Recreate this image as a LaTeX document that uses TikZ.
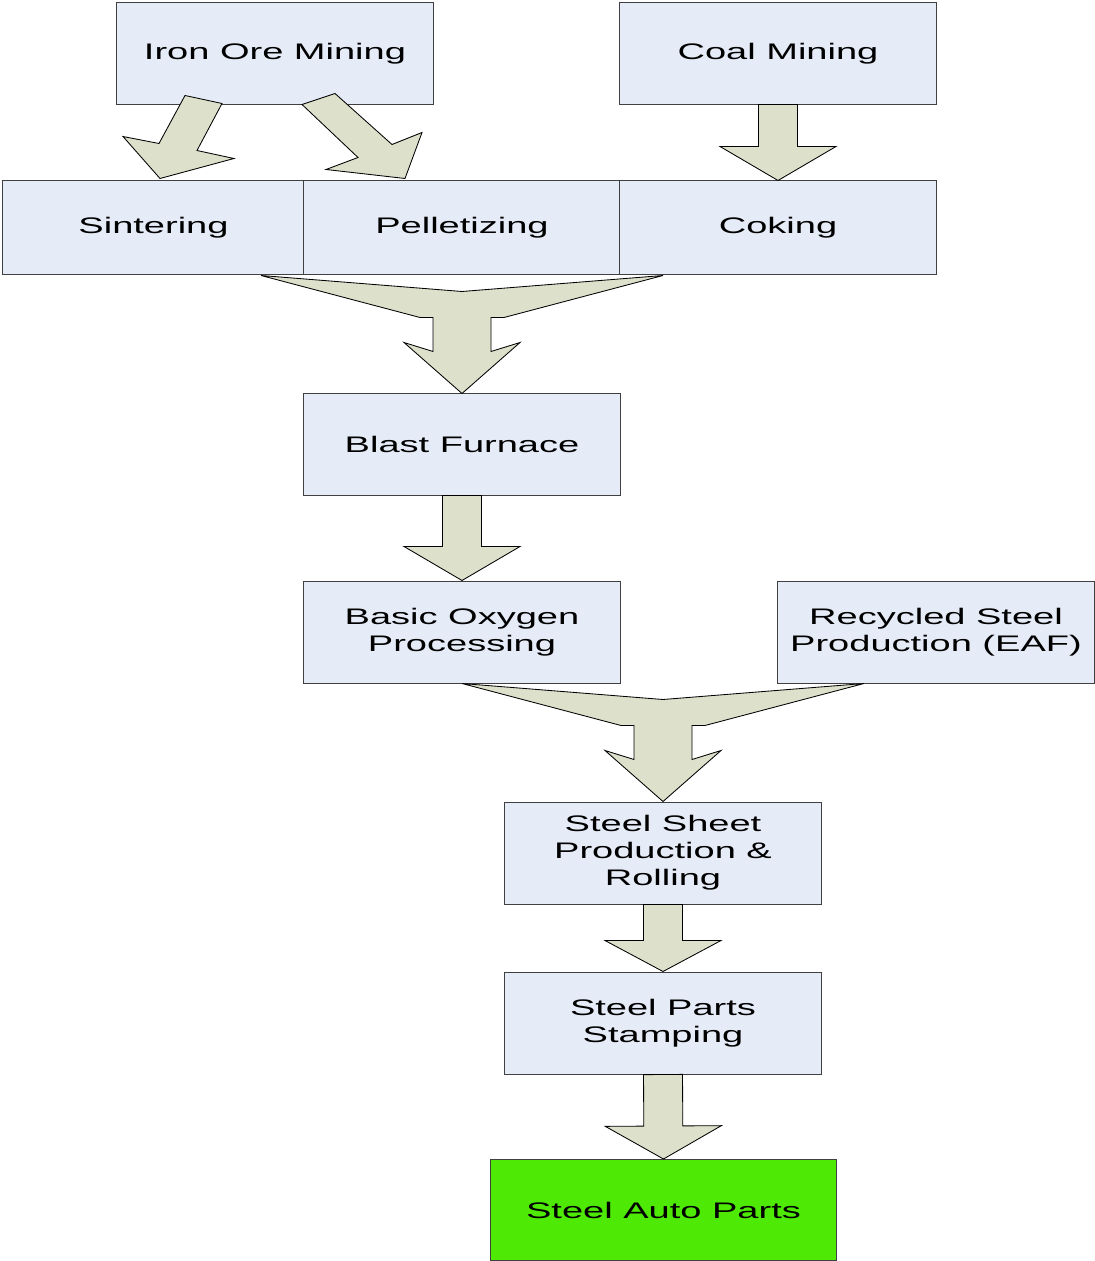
\documentclass[tikz,border=0pt]{standalone}
\usepackage{fontspec}
\setmainfont{Liberation Sans}[FakeStretch=1.69]
\usetikzlibrary{calc}

\definecolor{boxfill}{RGB}{230,236,247}
\definecolor{boxline}{RGB}{64,64,64}
\definecolor{arrowfill}{RGB}{221,224,203}
\definecolor{autogreen}{RGB}{78,234,6}

\def\pxu{0.025cm}
% block arrow: tail, tip, half shaft, half head, head length (px)
\newcommand{\blockarrow}[5]{%
  \path ($(#2)!#5*\pxu!(#1)$) coordinate (hb);
  \draw[arrowbody] ($(#1)!#3*\pxu!90:(#2)$) -- ($(hb)!#3*\pxu!90:(#2)$)
    -- ($(hb)!#4*\pxu!90:(#2)$) -- (#2) -- ($(hb)!#4*\pxu!-90:(#2)$)
    -- ($(hb)!#3*\pxu!-90:(#2)$) -- ($(#1)!#3*\pxu!-90:(#2)$) -- cycle;
}
% two sources joining into one target
\newcommand{\mergearrow}[1]{%
  \draw[arrowbody,shift={(#1.north)}] (-201,-118) -- (-42,-76) -- (-29,-76) -- (-29,-42)
    -- (-58,-51) -- (0,0) -- (58,-51) -- (29,-42) -- (29,-76) -- (42,-76)
    -- (201,-118) -- (0,-102) -- cycle;
}

\begin{document}
\begin{tikzpicture}[x=0.025cm,y=-0.025cm,
stage/.style={draw=boxline,line width=0.7pt,fill=boxfill,align=center,inner sep=0pt,
  minimum width=7.9cm,minimum height=2.525cm,font=\fontsize{16}{19.2}\selectfont},
prep/.style={stage,minimum height=2.325cm},
product/.style={stage,fill=autogreen,minimum width=8.625cm},
arrowbody/.style={draw=black,line width=0.6pt,fill=arrowfill,line join=miter}]
\useasboundingbox (0,0) rectangle (1095,1261);
\node[stage] (iron) at (275,53.5) {Iron Ore Mining};
\node[stage] (coal) at (778,53.5) {Coal Mining};
\node[prep,minimum width=7.525cm] (sinter) at (153.5,227.5) {Sintering};
\node[prep] (pellet) at (462,227.5) {Pelletizing};
\node[prep] (coke) at (778,227.5) {Coking};
\node[stage] (blast) at (462,444.5) {Blast Furnace};
\node[stage,minimum height=2.55cm] (bop) at (462,632) {Basic Oxygen\\Processing};
\node[stage,minimum height=2.55cm] (eaf) at (936,632) {Recycled Steel\\Production (EAF)};
\node[stage,minimum height=2.55cm] (sheet) at (663,853) {Steel Sheet\\Production \&\\Rolling};
\node[stage,minimum height=2.55cm] (stamp) at (663,1023) {Steel Parts\\Stamping};
\node[product] (auto) at (663.5,1210) {Steel Auto Parts};
% arrows
\coordinate (sinterTip) at ($(sinter.north)+(6.5,-2)$);
\coordinate (pelletTip) at ($(pellet.north)+(-57,-2)$);
\draw[arrowbody,shift={(sinterTip)}] (25,-83) -- (62,-75) -- (37,-28) -- (74,-20)
  -- (0,0) -- (-37,-42) -- (-1,-35) -- cycle;
\draw[arrowbody,shift={(pelletTip)}] (-103,-74) -- (-70,-85) -- (-13,-34) -- (17,-46)
  -- (0,0) -- (-79,-9) -- (-47,-21) -- cycle;
\blockarrow{coal.south}{coke.north}{19.5}{58}{34}
\mergearrow{blast}
\blockarrow{blast.south}{bop.north}{19.5}{58}{34}
\mergearrow{sheet}
\blockarrow{sheet.south}{stamp.north}{19.5}{58}{31}
\blockarrow{stamp.south}{auto.north}{19.5}{58}{33}
\end{tikzpicture}
\end{document}
